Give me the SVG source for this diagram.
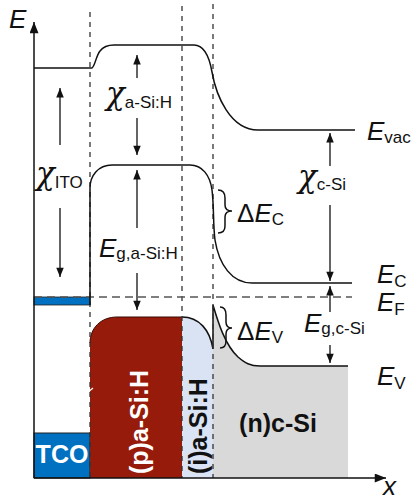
<svg xmlns="http://www.w3.org/2000/svg" width="416" height="500" viewBox="0 0 416 500">
<style>
.band{fill:none;stroke:#111;stroke-width:1.5}
.vd{fill:none;stroke:#333;stroke-width:1.3;stroke-dasharray:5 5}
.arr{fill:none;stroke:#111;stroke-width:1.3;marker-end:url(#ah)}
.t{font-family:"Liberation Sans",Arial,sans-serif;fill:#111}
.it{font-style:italic;font-size:26px}
.sub{font-size:17px;font-style:normal}
.chi{font-family:"DejaVu Serif","Liberation Serif",serif;font-style:italic;font-size:31px}
.lay{font-family:"Liberation Sans",Arial,sans-serif;font-weight:bold;font-size:25px}
</style>
<defs>
<marker id="ah" viewBox="0 0 10 8" refX="10" refY="4" markerWidth="10" markerHeight="7.5" orient="auto" markerUnits="userSpaceOnUse">
<path d="M0,0 L10,4 L0,8 z" fill="#111"/>
</marker>
<marker id="axh" viewBox="0 0 10 8" refX="10" refY="4" markerWidth="12" markerHeight="9" orient="auto" markerUnits="userSpaceOnUse">
<path d="M0,0 L10,4 L0,8 z" fill="#111"/>
</marker>
</defs>

<g id="tco">
<rect x="34" y="433" width="56" height="45" fill="#0070C0" stroke="#222" stroke-width="1"/>
<text class="lay" x="62" y="463" fill="#fff" text-anchor="middle">TCO</text>
</g>
<g id="p-aSiH">
<path d="M90,478 V343 C90,328 101,317 117,317 H182 V478 Z" fill="#961B0B"/>
<path d="M90,343 C90,328 101,317 117,317 H182" fill="none" stroke="#3a0a04" stroke-width="1"/>
<path d="M87,393 L93,388" stroke="#fff" stroke-width="1.2"/>
<text class="lay" transform="translate(148,474) rotate(-90)" fill="#fff">(p)a-Si:H</text>
</g>
<g id="i-aSiH">
<path d="M182,317 C199,317 210,330 213,349 V478 H182 Z" fill="#DAE3F3"/>
<path d="M182,317 C199,317 210,330 213,349" class="band" stroke-width="1.2"/>
<text class="lay" transform="translate(207,474) rotate(-90)" fill="#111">(i)a-Si:H</text>
</g>
<g id="n-cSi">
<path d="M213,305 C218,322 225,345 238,357 C245,363 250,366 260,366 H348 V478 H213 Z" fill="#D9D9D9"/>
<path d="M213,349 V305 C218,322 225,345 238,357 C245,363 250,366 260,366 H348" class="band"/>
<text class="lay" x="278" y="432" text-anchor="middle" fill="#111">(n)c-Si</text>
</g>

<g id="tco-fermi">
<rect x="34" y="297" width="56" height="8" fill="#0070C0" stroke="#222" stroke-width="0.8"/>
</g>

<g id="dashed">
<path class="vd" d="M90,12 V478"/>
<path class="vd" d="M182,6 V478" stroke="#555"/>
<path class="vd" d="M213,4 V478"/>
<path d="M34,297 H352" fill="none" stroke="#555" stroke-width="1.5" stroke-dasharray="8 5"/>
</g>

<g id="bands">
<path class="band" d="M34,68 H92 C95,66 96,56 100,51 C103,47 107,45 114,45 H194 C204,45 209,55 212,72 C216,95 230,130 258,130 H355"/>
<path class="band" d="M90,305 V188 C90,176 98,165 112,165 H190 C202,165 210,175 212,190 C214,205 213,225 215,240 C219,265 232,283 252,283 H352"/>
</g>

<g id="axes">
<path d="M34,478 V22" fill="none" stroke="#111" stroke-width="1.5" marker-end="url(#axh)"/>
<path d="M34,478 H386" fill="none" stroke="#111" stroke-width="1.5" marker-end="url(#axh)"/>
<text class="t it" x="9" y="28" font-size="23">E</text>
<text class="t it" x="383" y="495" font-size="22">x</text>
</g>

<g id="connectors">
<path class="arr" d="M60,145 V88"/>
<path class="arr" d="M60,208 V277"/>
<path class="arr" d="M137,78 V55"/>
<path class="arr" d="M137,118 V155"/>
<path class="arr" d="M137,228 V170"/>
<path class="arr" d="M137,273 V310"/>
<path class="arr" d="M330,166 V133"/>
<path class="arr" d="M330,205 V281"/>
<path class="arr" d="M330,312 V286"/>
<path class="arr" d="M330,345 V363"/>
<path class="band" stroke-width="1.2" d="M218,190 C223,190 225,193 225,198 V205 C225,209 227,211 232,211 C227,211 225,213 225,217 V226 C225,231 223,233 218,233"/>
<path class="band" stroke-width="1.2" d="M220,307 C224,307 226,310 226,315 V322 C226,326 228,328 232,328 C228,328 226,330 226,334 V341 C226,346 224,348 220,348"/>
</g>

<g id="labels">
<text class="t" x="36" y="184"><tspan class="chi">χ</tspan><tspan class="sub" dy="4">ITO</tspan></text>
<text class="t" x="106" y="104"><tspan class="chi">χ</tspan><tspan class="sub" dy="4">a-Si:H</tspan></text>
<text class="t" x="298" y="187"><tspan class="chi">χ</tspan><tspan class="sub" dy="3">c-Si</tspan></text>
<text class="t" x="99" y="257"><tspan class="it">E</tspan><tspan class="sub" dy="2">g,a-Si:H</tspan></text>
<text class="t" x="304" y="332"><tspan class="it">E</tspan><tspan class="sub" dy="2">g,c-Si</tspan></text>
<text class="t" x="367" y="140"><tspan class="it">E</tspan><tspan class="sub" dy="3">vac</tspan></text>
<text class="t" x="377" y="283"><tspan class="it">E</tspan><tspan class="sub" dy="4">C</tspan></text>
<text class="t" x="377" y="311"><tspan class="it">E</tspan><tspan class="sub" dy="4">F</tspan></text>
<text class="t" x="377" y="385"><tspan class="it">E</tspan><tspan class="sub" dy="4">V</tspan></text>
<text class="t" x="237" y="222" font-size="26">Δ<tspan class="it">E</tspan><tspan class="sub" dy="3">C</tspan></text>
<text class="t" x="237" y="340" font-size="26">Δ<tspan class="it">E</tspan><tspan class="sub" dy="3">V</tspan></text>
</g>
</svg>
